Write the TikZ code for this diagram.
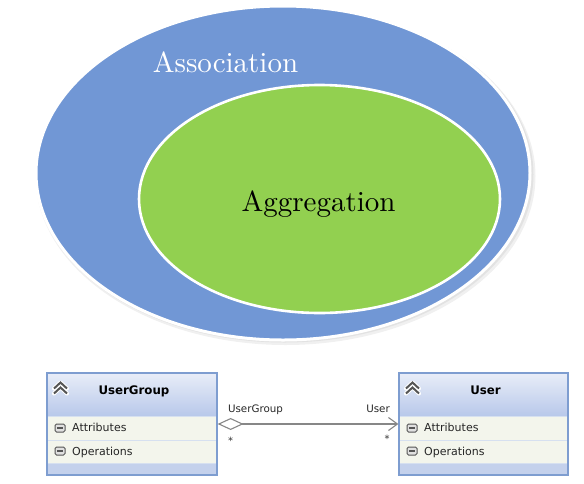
\documentclass[tikz,border=0pt]{standalone}
\usepackage{fontspec}
\newfontfamily\uifont{DejaVu Sans}
\newfontfamily\lmten[Extension=.otf]{lmroman10-regular}
\usetikzlibrary{shapes.geometric,arrows.meta,calc}
\definecolor{assocblue}{RGB}{113,151,213}
\definecolor{aggrgreen}{RGB}{146,208,80}
\definecolor{clsborder}{RGB}{126,157,208}
\definecolor{hdtop}{RGB}{232,237,248}
\definecolor{hdbot}{RGB}{184,200,234}
\definecolor{rowfill}{RGB}{243,245,236}
\definecolor{rowline}{RGB}{214,224,240}
\definecolor{footfill}{RGB}{196,209,236}
\definecolor{conngray}{RGB}{135,135,135}
\definecolor{icongray}{RGB}{85,85,85}
\tikzset{
  blob/.style={ellipse, inner sep=0pt, draw=white},
  biglabel/.style={font=\lmten\fontsize{29}{34}\selectfont, anchor=base, inner sep=0pt},
  clsbox/.style={rectangle, draw=none, inner sep=0pt, minimum height=102pt},
  clstitle/.style={font=\uifont\bfseries\fontsize{11.8}{14}\selectfont, anchor=base, inner sep=0pt, text=black},
  rowtext/.style={font=\uifont\fontsize{11}{13}\selectfont, anchor=base west, inner sep=0pt, text=black!85},
  conntext/.style={font=\uifont\fontsize{10.3}{12}\selectfont, anchor=base, inner sep=0pt, text=black!85},
  startext/.style={font=\uifont\fontsize{10}{11}\selectfont, anchor=base, inner sep=0pt, text=black!80},
  minusicon/.style={rectangle, rounded corners=1.5pt, draw=icongray, fill=black!12, line width=1pt, minimum width=10pt, minimum height=8pt, inner sep=0pt},
  conn/.style={draw=conngray, line width=1.1pt}
}
\begin{document}
\begin{tikzpicture}[x=1pt,y=-1pt]
\useasboundingbox (0,0) rectangle (584,483);
% shadow
\fill[black, opacity=0.06] (285.5,176) ellipse [x radius=250, y radius=169];
\fill[black, opacity=0.06] (284.5,174.5) ellipse [x radius=249, y radius=168];
% ellipses
\node[blob, fill=assocblue, line width=3pt, minimum width=494pt, minimum height=334pt] (assoc) at (283,173) {};
\node[blob, fill=aggrgreen, line width=2.6pt, minimum width=361pt, minimum height=228pt] (aggr) at (319.5,199) {};
\node[biglabel, text=white] (assoclbl) at (225.5,72.7) {Association};
\node[biglabel, text=black] (aggrlbl) at (318.5,211.7) {Aggregation};

% class boxes
\foreach \nm/\xl/\xr/\title/\tx in {ug/47/217/UserGroup/134, us/399/568/User/485.5}{
  \shade[top color=hdtop, bottom color=hdbot] (\xl,373) rectangle (\xr,416);
  \fill[rowfill] (\xl,416) rectangle (\xr,463);
  \fill[footfill] (\xl,463) rectangle (\xr,475);
  \draw[rowline, line width=0.8pt] (\xl,416) -- (\xr,416);
  \draw[rowline, line width=0.8pt] (\xl,440) -- (\xr,440);
  \draw[rowline, line width=0.8pt] (\xl,463) -- (\xr,463);
  \node[clsbox, minimum width={(\xr-\xl)*1pt}, draw=clsborder, line width=1.2pt] (\nm) at ({(\xl+\xr)/2},424) {};
  \node[clstitle] (\nm-title) at (\tx,394) {\title};
  \node[rowtext] (\nm-attr) at (\xl+25,431) {Attributes};
  \node[rowtext] (\nm-ops) at (\xl+25,455) {Operations};
  \node[minusicon] (\nm-m1) at (\xl+13,428) {};
  \node[minusicon] (\nm-m2) at (\xl+13,451) {};
  \draw[icongray, line width=1.2pt] ($(\nm-m1.center)+(-2.6,0)$) -- ($(\nm-m1.center)+(2.6,0)$);
  \draw[icongray, line width=1.2pt] ($(\nm-m2.center)+(-2.6,0)$) -- ($(\nm-m2.center)+(2.6,0)$);
  \coordinate (\nm-chev) at (\xl+13.5,387.5);
  \draw[white, line width=4pt, line cap=round, line join=round]
     ($(\nm-chev)+(-6.5,1)$) -- ($(\nm-chev)+(0,-5)$) -- ($(\nm-chev)+(6.5,1)$)
     ($(\nm-chev)+(-6.5,6)$) -- ($(\nm-chev)+(0,0)$) -- ($(\nm-chev)+(6.5,6)$);
  \draw[icongray, line width=2pt, line join=miter]
     ($(\nm-chev)+(-6.5,1)$) -- ($(\nm-chev)+(0,-5)$) -- ($(\nm-chev)+(6.5,1)$)
     ($(\nm-chev)+(-6.5,6)$) -- ($(\nm-chev)+(0,0)$) -- ($(\nm-chev)+(6.5,6)$);
}

% connector
\draw[conn,
      {Diamond[open, length=26pt, width=12pt, line width=1.1pt, fill=white]}-{Straight Barb[length=9pt, width=13pt, line width=1.1pt]}]
  (ug.east) -- (us.west);
\node[conntext] (lblug) at (255.5,412) {UserGroup};
\node[conntext] (lblus) at (378,412) {User};
\node[startext] (starug) at (230.5,444) {*};
\node[startext] (starus) at (387,442) {*};
\end{tikzpicture}
\end{document}
